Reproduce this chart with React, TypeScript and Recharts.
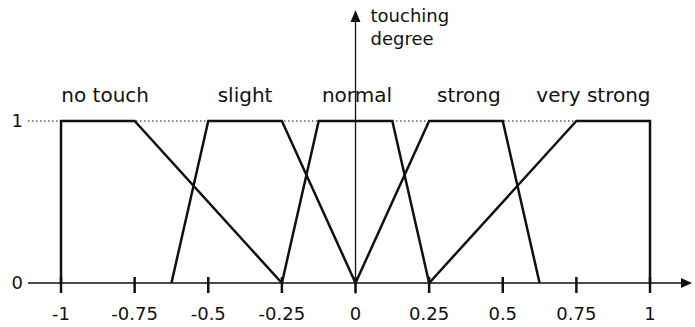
import React from "react";
import { LineChart, Line, XAxis, YAxis, ReferenceLine, ReferenceDot } from "recharts";

// x-axis ticks and labels
const xTicks = [-1, -0.75, -0.5, -0.25, 0, 0.25, 0.5, 0.75, 1];
const xTickLabels = ["-1", "-0.75", "-0.5", "-0.25", "0", "0.25", "0.5", "0.75", "1"];
const yTicks = [0, 1];

// membership functions (x, degree)
const noTouchX = [-1, -1, -0.75, -0.25];
const noTouchY = [0, 1, 1, 0];
const slightX = [-0.625, -0.5, -0.25, 0];
const slightY = [0, 1, 1, 0];
const normalX = [-0.25, -0.125, 0.125, 0.25];
const normalY = [0, 1, 1, 0];
const strongX = [0, 0.25, 0.5, 0.625];
const strongY = [0, 1, 1, 0];
const veryStrongX = [0.25, 0.75, 1, 1];
const veryStrongY = [0, 1, 1, 0];

// category labels
const categoryNames = ["no touch", "slight", "normal", "strong", "very strong"];
const categoryCenters = [-0.85, -0.375, 0.005, 0.385, 0.808];
const categoryLabelY = 1.117;

const axisTitleLines = ["touching", "degree"];

const X_MIN = -1.1121;
const X_MAX = 1.1358;
const Y_MIN = 0;
const Y_MAX = 1.7;

const FONT = "'DejaVu Sans', Verdana, sans-serif";
const INK = "#111";

const toPoints = (xs: number[], ys: number[]) => xs.map((x, i) => ({ x, y: ys[i] }));

const series = [
  toPoints(noTouchX, noTouchY),
  toPoints(slightX, slightY),
  toPoints(normalX, normalY),
  toPoints(strongX, strongY),
  toPoints(veryStrongX, veryStrongY),
];

const XTick = (props: any) => {
  const { x, y, payload } = props;
  const idx = xTicks.indexOf(payload.value);
  const label = idx >= 0 ? xTickLabels[idx] : String(payload.value);
  return (
    <g>
      <line x1={x} x2={x} y1={y - 6} y2={y + 10} stroke={INK} strokeWidth={2.5} />
      <text x={x} y={y + 37} textAnchor="middle" fontSize={18} fontFamily={FONT} fill={INK}>
        {label}
      </text>
    </g>
  );
};

export default function App() {
  return (
    <div style={{ position: "absolute", left: 0, top: 0, background: "#fff" }}>
      <LineChart
        width={695}
        height={327}
        margin={{ top: 7.6, right: 5, bottom: 0, left: 0 }}
      >
        <XAxis
          type="number"
          dataKey="x"
          domain={[X_MIN, X_MAX]}
          allowDataOverflow
          ticks={xTicks}
          interval={0}
          height={44}
          tickSize={0}
          tickMargin={0}
          tickLine={false}
          axisLine={{ stroke: INK, strokeWidth: 1.3 }}
          tick={<XTick />}
        />
        <YAxis
          type="number"
          dataKey="y"
          domain={[Y_MIN, Y_MAX]}
          allowDataOverflow
          ticks={yTicks}
          width={28}
          tickSize={0}
          tickMargin={5}
          tickLine={false}
          axisLine={false}
          tick={{ fontSize: 18, fontFamily: FONT, fill: INK }}
        />
        <ReferenceLine
          segment={[{ x: X_MIN, y: 1 }, { x: 1, y: 1 }]}
          stroke={INK}
          strokeWidth={1}
          strokeDasharray="1.5 2.5"
          ifOverflow="visible"
        />
        <ReferenceLine
          segment={[{ x: 0, y: -0.065 }, { x: 0, y: 1.62 }]}
          stroke={INK}
          strokeWidth={1.3}
          ifOverflow="visible"
        />
        <ReferenceDot
          x={X_MAX}
          y={0}
          ifOverflow="visible"
          shape={(p: any) => (
            <path
              d={`M${p.cx + 2},${p.cy} L${p.cx - 9},${p.cy - 5} L${p.cx - 9},${p.cy + 5} Z`}
              fill={INK}
            />
          )}
        />
        <ReferenceDot
          x={0}
          y={1.685}
          ifOverflow="visible"
          shape={(p: any) => (
            <path
              d={`M${p.cx},${p.cy} L${p.cx - 5},${p.cy + 12} L${p.cx + 5},${p.cy + 12} Z`}
              fill={INK}
            />
          )}
        />
        <ReferenceDot
          x={0}
          y={1.61}
          ifOverflow="visible"
          shape={(p: any) => (
            <text x={p.cx + 15} y={p.cy} fontSize={18} fontFamily={FONT} fill={INK}>
              <tspan x={p.cx + 15} dy={0}>{axisTitleLines[0]}</tspan>
              <tspan x={p.cx + 15} dy={23}>{axisTitleLines[1]}</tspan>
            </text>
          )}
        />
        {categoryNames.map((name, i) => (
          <ReferenceDot
            key={name}
            x={categoryCenters[i]}
            y={categoryLabelY}
            ifOverflow="visible"
            shape={(p: any) => (
              <text x={p.cx} y={p.cy} textAnchor="middle" fontSize={20} fontFamily={FONT} fill={INK}>
                {name}
              </text>
            )}
          />
        ))}
        {series.map((data, i) => (
          <Line
            key={i}
            data={data}
            dataKey="y"
            type="linear"
            stroke={INK}
            strokeWidth={2.5}
            dot={false}
            activeDot={false}
            isAnimationActive={false}
          />
        ))}
      </LineChart>
    </div>
  );
}
